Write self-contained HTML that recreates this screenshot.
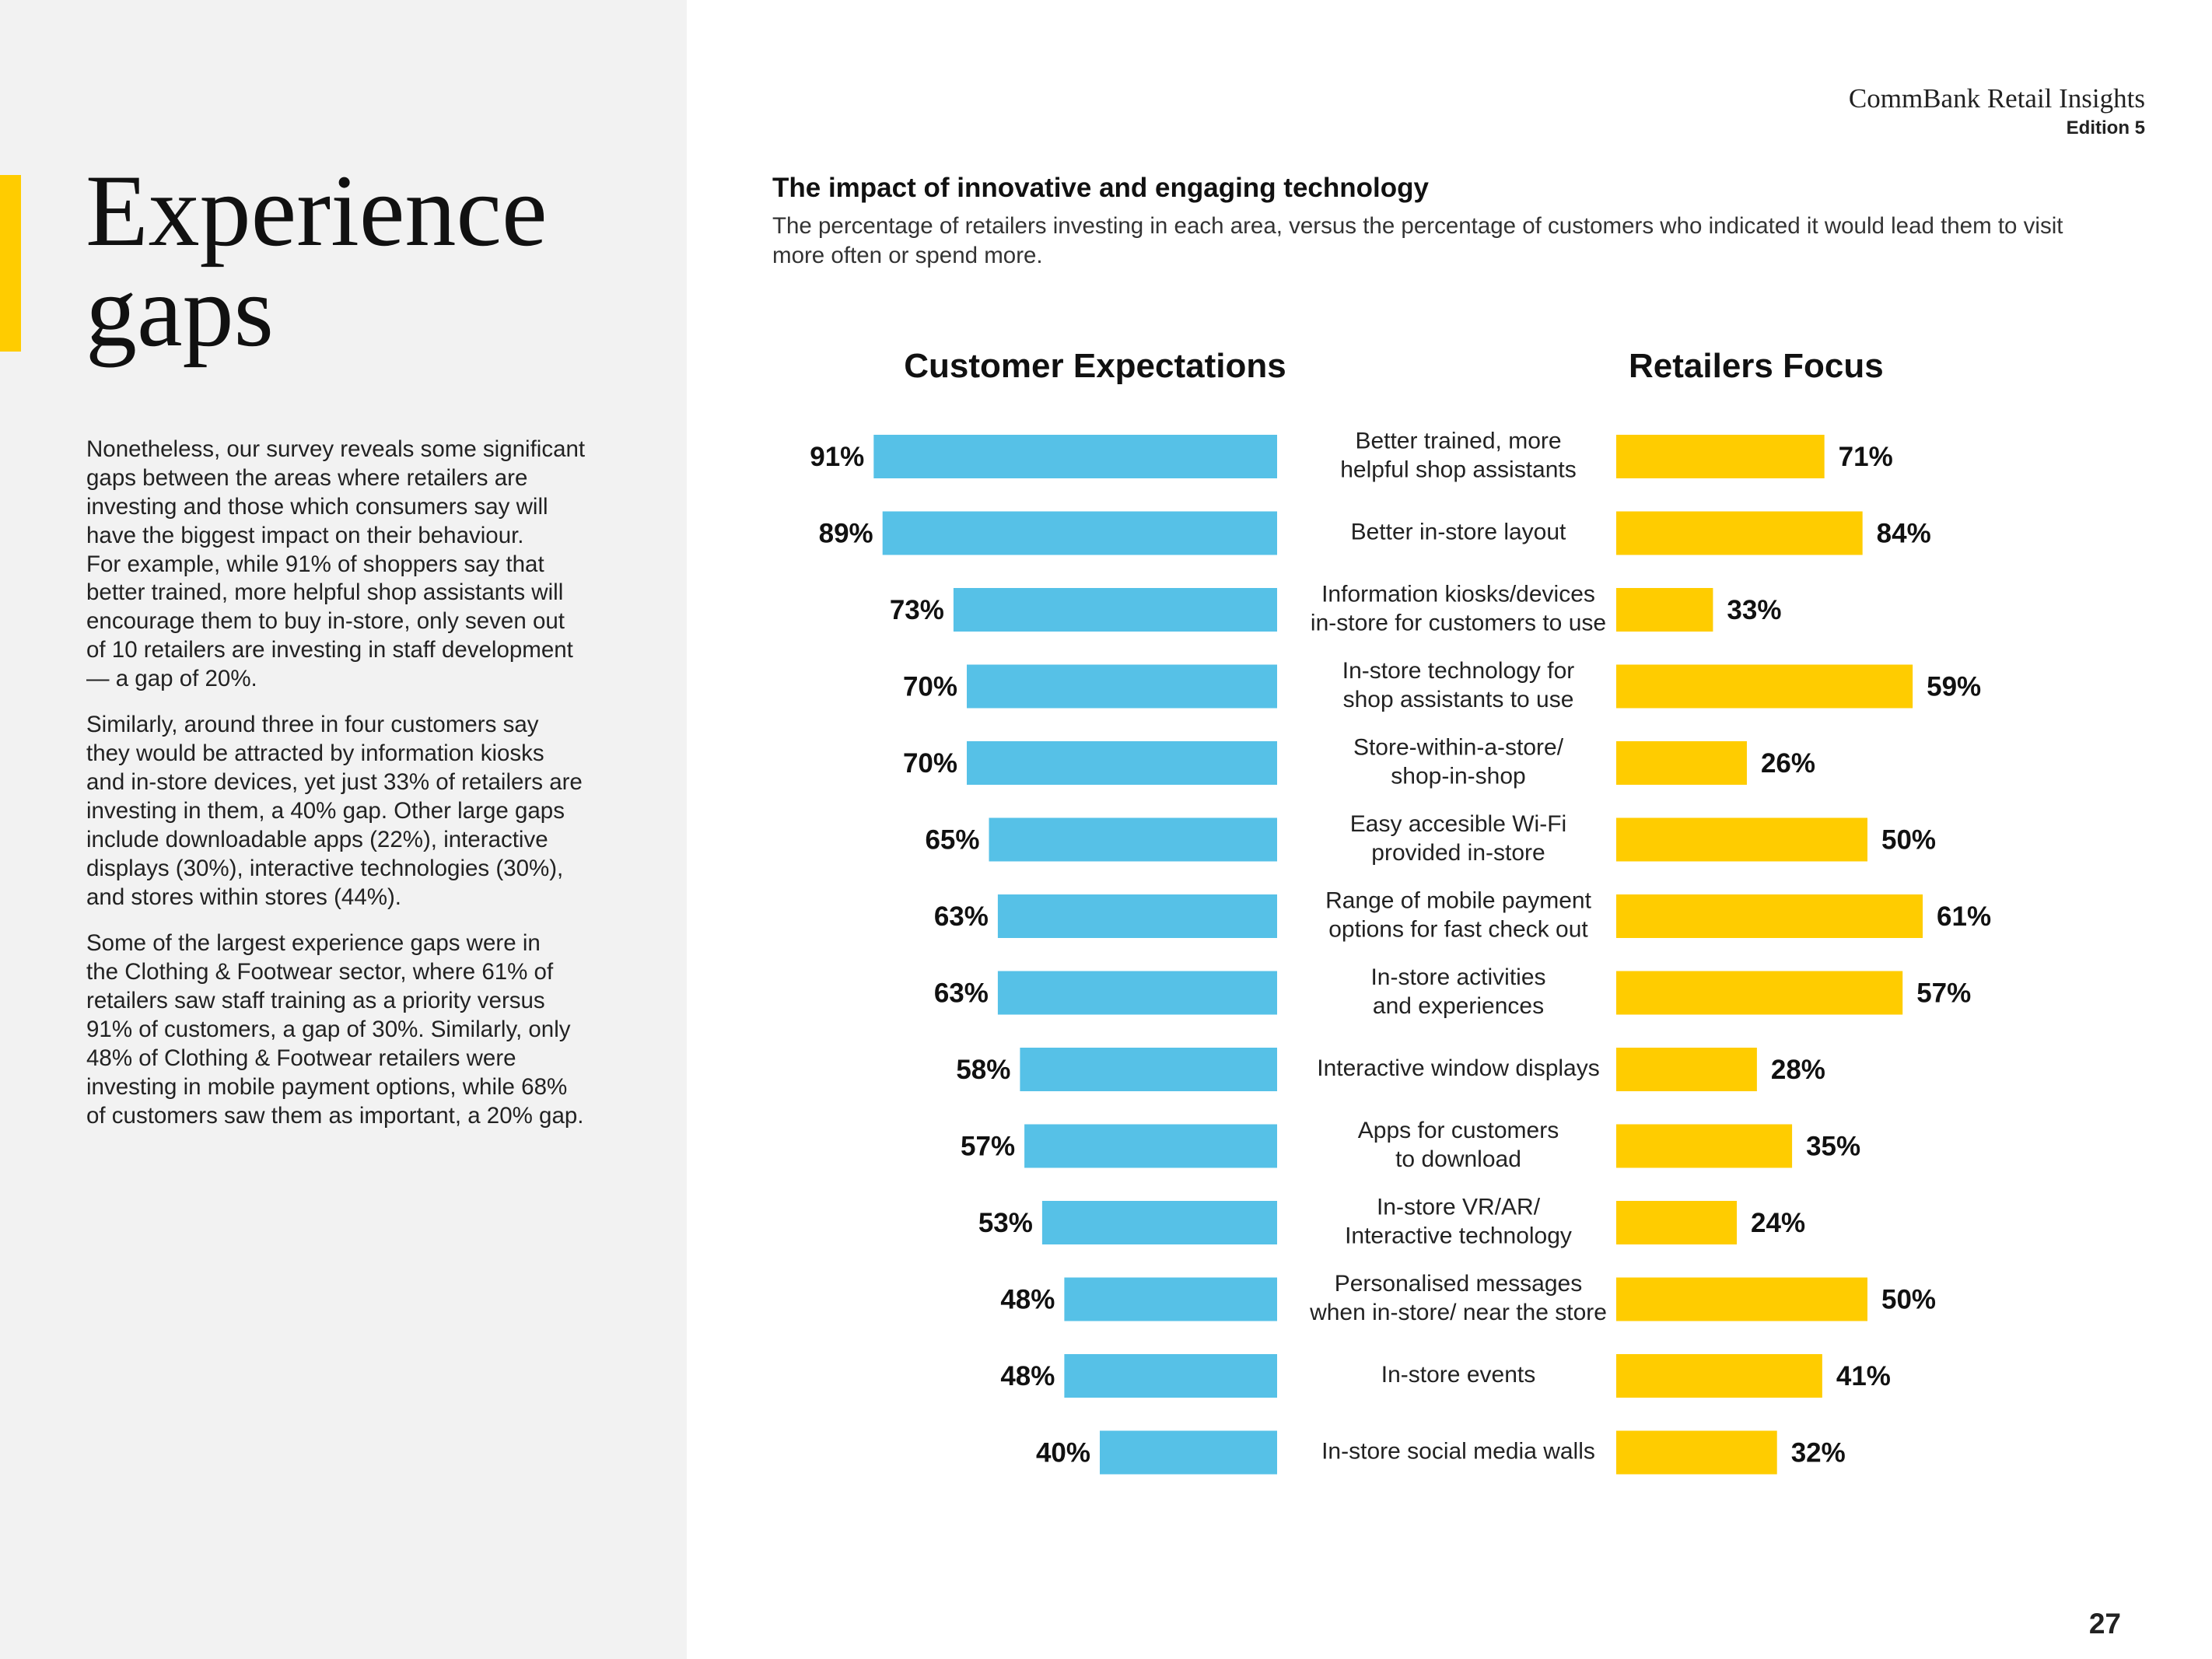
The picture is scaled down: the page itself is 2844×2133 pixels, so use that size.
<!DOCTYPE html>
<html><head><meta charset="utf-8"><style>
html,body{margin:0;padding:0;background:#fff}
svg{display:block}
text{font-family:"Liberation Sans","DejaVu Sans",sans-serif}
</style></head><body>
<svg id="chart" width="2844" height="2133" viewBox="0 0 2844 2133" xmlns="http://www.w3.org/2000/svg">
<rect x="0" y="0" width="883" height="2133" fill="#f2f2f2"/>
<rect x="0" y="225" width="27" height="227" fill="#ffcc00"/>
<text x="110" y="315" font-size="132" fill="#111" style="font-family:'Liberation Serif',serif">Experience</text>
<text x="110" y="444" font-size="132" fill="#111" style="font-family:'Liberation Serif',serif">gaps</text>
<g font-size="29.5" fill="#222" dominant-baseline="middle">
<text x="111" y="579">Nonetheless, our survey reveals some significant</text>
<text x="111" y="616">gaps between the areas where retailers are</text>
<text x="111" y="653">investing and those which consumers say will</text>
<text x="111" y="690">have the biggest impact on their behaviour.</text>
<text x="111" y="727">For example, while 91% of shoppers say that</text>
<text x="111" y="763">better trained, more helpful shop assistants will</text>
<text x="111" y="800">encourage them to buy in-store, only seven out</text>
<text x="111" y="837">of 10 retailers are investing in staff development</text>
<text x="111" y="874">— a gap of 20%.</text>
<text x="111" y="933">Similarly, around three in four customers say</text>
<text x="111" y="970">they would be attracted by information kiosks</text>
<text x="111" y="1007">and in-store devices, yet just 33% of retailers are</text>
<text x="111" y="1044">investing in them, a 40% gap. Other large gaps</text>
<text x="111" y="1081">include downloadable apps (22%), interactive</text>
<text x="111" y="1118">displays (30%), interactive technologies (30%),</text>
<text x="111" y="1155">and stores within stores (44%).</text>
<text x="111" y="1214">Some of the largest experience gaps were in</text>
<text x="111" y="1251">the Clothing &amp; Footwear sector, where 61% of</text>
<text x="111" y="1288">retailers saw staff training as a priority versus</text>
<text x="111" y="1325">91% of customers, a gap of 30%. Similarly, only</text>
<text x="111" y="1362">48% of Clothing &amp; Footwear retailers were</text>
<text x="111" y="1399">investing in mobile payment options, while 68%</text>
<text x="111" y="1436">of customers saw them as important, a 20% gap.</text>
</g>
<text x="2758" y="138" text-anchor="end" font-size="35" fill="#222" style="font-family:'Liberation Serif',serif">CommBank Retail Insights</text>
<text x="2758" y="172" text-anchor="end" font-size="24" font-weight="bold" fill="#222">Edition 5</text>
<text x="993" y="253" font-size="35" font-weight="bold" fill="#111">The impact of innovative and engaging technology</text>
<text x="993" y="300" font-size="29.5" fill="#333">The percentage of retailers investing in each area, versus the percentage of customers who indicated it would lead them to visit</text>
<text x="993" y="338" font-size="29.5" fill="#333">more often or spend more.</text>
<text x="1408" y="485" text-anchor="middle" font-size="44" font-weight="bold" fill="#111">Customer Expectations</text>
<text x="2094" y="485" font-size="44" font-weight="bold" fill="#111">Retailers Focus</text>
<g id="bars"></g>
<text x="2727" y="2100" text-anchor="end" font-size="37" font-weight="bold" fill="#222">27</text>
</svg>
<script>
const categories = [
 ["Better trained, more","helpful shop assistants"],
 ["Better in-store layout"],
 ["Information kiosks/devices","in-store for customers to use"],
 ["In-store technology for","shop assistants to use"],
 ["Store-within-a-store/","shop-in-shop"],
 ["Easy accesible Wi-Fi","provided in-store"],
 ["Range of mobile payment","options for fast check out"],
 ["In-store activities","and experiences"],
 ["Interactive window displays"],
 ["Apps for customers","to download"],
 ["In-store VR/AR/","Interactive technology"],
 ["Personalised messages","when in-store/ near the store"],
 ["In-store events"],
 ["In-store social media walls"]
];
const customerValues = [91,89,73,70,70,65,63,63,58,57,53,48,48,40];
const retailerValues = [71,84,33,59,26,50,61,57,28,35,24,50,41,32];

const NS = "http://www.w3.org/2000/svg";
const g = document.getElementById("bars");
const rowY = i => 587 + i * 98.5;
const custX = v => 1642 - v * 5.70;
// the source graphic draws the first three retailer bars at a different scale
const retW = (v, i) => v * (i < 3 ? 3.77 : 6.46);
const BH = 56;
function mk(tag, attrs){const e=document.createElementNS(NS,tag);for(const k in attrs)e.setAttribute(k,attrs[k]);return e;}
categories.forEach((cat,i)=>{
  const cy = rowY(i);
  const cv = customerValues[i], rv = retailerValues[i];
  const b1 = mk("rect",{x:custX(cv),y:cy-BH/2,width:1642-custX(cv),height:BH,fill:"#56c1e7"});
  
  
  g.appendChild(b1);
  const t1 = mk("text",{x:custX(cv)-12,y:cy+12,"text-anchor":"end","font-size":35,"font-weight":"bold",fill:"#111"});
  t1.textContent = cv + "%";
  
  
  g.appendChild(t1);
  const w = retW(rv, i);
  const b2 = mk("rect",{x:2078,y:cy-BH/2,width:w,height:BH,fill:"#ffcc00"});
  
  
  g.appendChild(b2);
  const t2 = mk("text",{x:2078+w+18,y:cy+12,"font-size":35,"font-weight":"bold",fill:"#111"});
  t2.textContent = rv + "%";
  
  
  g.appendChild(t2);
  const lab = mk("text",{x:1875,y:cy,"text-anchor":"middle","font-size":30,fill:"#222","dominant-baseline":"middle"});
  
  
  cat.forEach((line,j)=>{
    const ts = mk("tspan",{x:1875,y: cy + (j - (cat.length-1)/2) * 37});
    ts.textContent = line;
    lab.appendChild(ts);
  });
  g.appendChild(lab);
});
</script>
</body></html>
